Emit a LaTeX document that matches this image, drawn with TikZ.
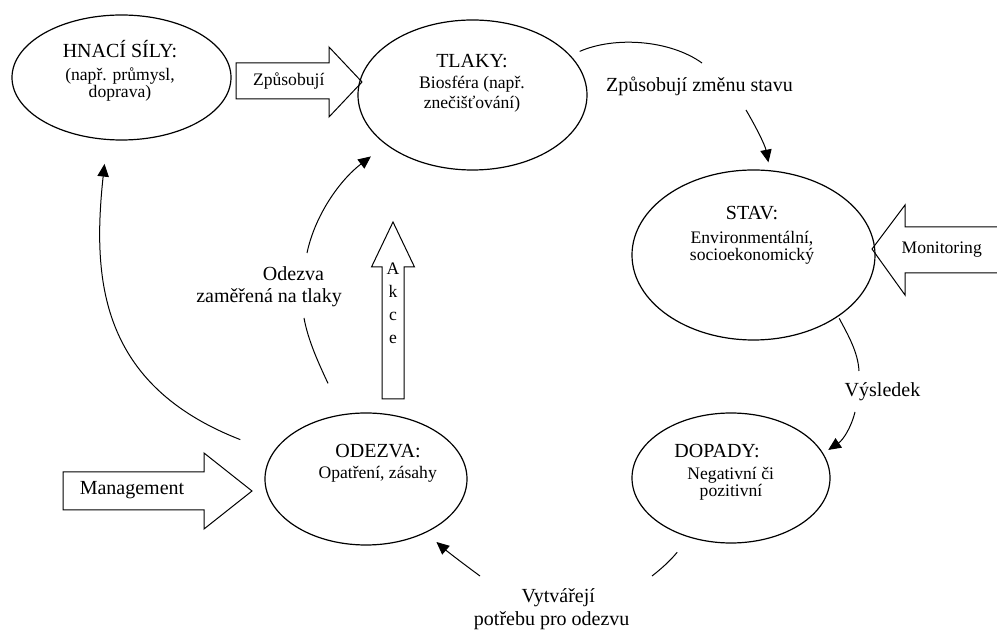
\documentclass[tikz,border=0pt]{standalone}
\usepackage{fontspec}
\setmainfont{Liberation Serif}
\usetikzlibrary{shapes.geometric,arrows.meta}

\begin{document}
\begin{tikzpicture}[x=0.75pt,y=-0.75pt,
  ell/.style 2 args={draw, ellipse, line width=0.9pt, inner sep=0pt,
    minimum width={#1*1.5pt}, minimum height={#2*1.5pt}},
  ttl/.style={anchor=base, inner sep=0pt, font=\fontsize{15}{18}\selectfont},
  txt/.style={anchor=base, inner sep=0pt, font=\fontsize{13.2}{15}\selectfont},
  lbl/.style={anchor=base, inner sep=0pt, font=\fontsize{15}{18}\selectfont},
  conn/.style={line width=0.75pt},
  tipconn/.style={conn, -{Triangle[length=9.5pt,width=8.5pt]}},
  blockarrow/.style={draw, line width=0.75pt, line join=miter},
]
\useasboundingbox (0,0) rectangle (997,630);

% --- the five stages ---
\node[ell={109.5}{62.5}] (hnaci)  at (121.5,77.5) {};
\node[ell={114.5}{75}]   (tlaky)  at (472.5,95)   {};
\node[ell={121.5}{85}]   (stav)   at (753.5,255)  {};
\node[ell={99}{65}]      (dopady) at (731,478)    {};
\node[ell={101}{66}]     (odezva) at (366,479)    {};

% --- texts inside the stages ---
\node[ttl] (hnaciT)  at (120,57.3) {HNACÍ SÍLY:};
\node[txt] (hnaciA)  at (120,80.5) {(např. průmysl,};
\node[txt] (hnaciB)  at (120,98)   {doprava)};

\node[ttl] (tlakyT)  at (472,67.7) {TLAKY:};
\node[txt] (tlakyA)  at (472,88.3) {Biosféra (např.};
\node[txt] (tlakyB)  at (472,108.3){znečišťování)};

\node[ttl] (stavT)   at (752,220)  {STAV:};
\node[txt] (stavA)   at (752,243.3){Environmentální,};
\node[txt] (stavB)   at (752,261)  {socioekonomický};

\node[ttl] (dopadyT) at (717,457.7){DOPADY:};
\node[txt] (dopadyA) at (730.7,479.3){Negativní či};
\node[txt] (dopadyB) at (731,496.5){pozitivní};

\node[ttl] (odezvaT) at (378,457.7){ODEZVA:};
\node[txt] (odezvaA) at (377.7,478.3){Opatření, zásahy};

% --- block arrows ---
\draw[blockarrow] (236,63) -- (329,63) -- (329,47) -- (362,82) -- (329,117)
  -- (329,99) -- (236,99) -- cycle;
\node[txt] (zpusobuji) at (288.7,85.7) {Způsobují};

\draw[blockarrow] (997,227) -- (905,227) -- (905,205) -- (872,249) -- (905,295)
  -- (905,273) -- (997,273);
\node[txt] (monitoring) at (941.7,253.5) {Monitoring};

\draw[blockarrow] (63,472) -- (204,472) -- (204,453) -- (252,491) -- (204,529)
  -- (204,510) -- (63,510) -- cycle;
\node[lbl] (management) at (132,495) {Management};

\draw[blockarrow] (382,399) -- (382,267) -- (371.5,267) -- (393,222) -- (414.5,267)
  -- (404,267) -- (404,399) -- cycle;
% stacked letters; the base anchor sits on the last line
\node[txt, align=center, font=\fontsize{13.2}{17.25}\selectfont] (akce) at (393,344) {A\\k\\c\\e};

% --- connector labels ---
\node[lbl] (lblZmena)  at (699.5,91.7) {Způsobují změnu stavu};
\node[lbl] (lblVysl)   at (882.5,396.7){Výsledek};
\node[lbl] (lblVytA)   at (558.3,602.7){Vytvářejí};
\node[lbl] (lblVytB)   at (551.7,625.5){potřebu pro odezvu};
\node[lbl] (lblOdzA)   at (293.5,281)  {Odezva};
\node[lbl] (lblOdzB)   at (269,302.7)  {zaměřená na tlaky};

% --- free ends of the connectors beside their labels ---
\coordinate (k1a) at (702,63);
\coordinate (k1b) at (746,110);
\coordinate (k2a) at (859,371);
\coordinate (k2b) at (855,412);
\coordinate (k3a) at (652,576);
\coordinate (k3b) at (480,576);
\coordinate (k4a) at (304,318);
\coordinate (k4b) at (307,253);

% --- connectors ---
% pressures -> state
\draw[conn, shorten <=7.5pt] (tlaky.22) .. controls (615,36) and (670,40) .. (k1a);
\draw[tipconn, shorten >=6pt] (k1b) .. controls (756,127) and (765,145) .. (stav.79);
% state -> impacts
\draw[conn, shorten <=1.5pt] (stav.-36) .. controls (848,335) and (858,352) .. (k2a);
\draw[tipconn, shorten >=4.5pt] (k2b) .. controls (851,428) and (843,440) .. (dopady.15);
% impacts -> response
\draw[conn, shorten <=14.25pt] (dopady.235) .. controls (670,561) and (661,569) .. (k3a);
\draw[tipconn, shorten >=10.5pt] (k3b) .. controls (465,565) and (448,552) .. (odezva.-42);
% response -> pressures
\draw[conn, shorten <=25.5pt] (odezva.110) .. controls (318,362) and (308,340) .. (k4a);
\draw[tipconn, shorten >=14.25pt] (k4b) .. controls (315,215) and (340,180) .. (tlaky.210);
% response -> driving forces
\draw[tipconn, shorten <=26.25pt, shorten >=18pt] (odezva.164)
  .. controls (100,385) and (92,280) .. (hnaci.257);
\end{tikzpicture}
\end{document}
